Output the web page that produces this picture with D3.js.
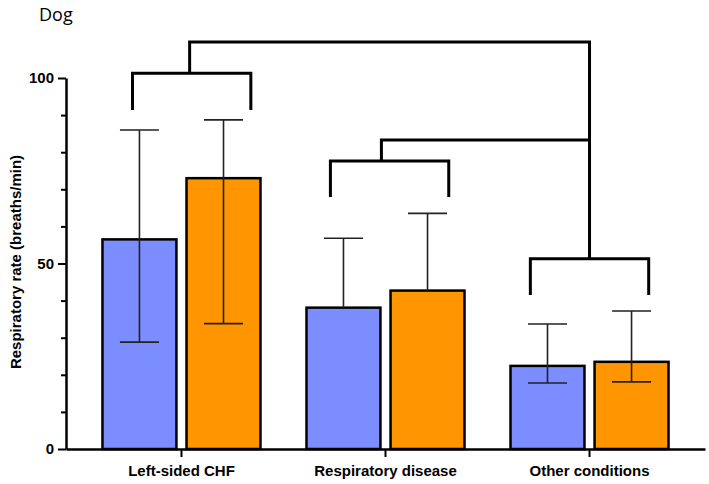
<!DOCTYPE html>
<html>
<head>
<meta charset="utf-8">
<script src="https://cdn.jsdelivr.net/npm/d3@7"></script>
<style>
	body { margin: 0; background: #fff; }
	svg { display: block; }
</style>
</head>
<body>
<div class="dog-chart"></div>
<script>
// categories and the two groups per category
let categories = ['Left-sided CHF', 'Respiratory disease', 'Other conditions'];
let groups = ['blue', 'orange'];

// bar heights (breaths/min)
let blueValues = [56.5, 38.1, 22.4];
let orangeValues = [73.0, 42.7, 23.5];
// error bar ends (null = not drawn)
let blueUpper = [86.0, 56.8, 33.7];
let blueLower = [28.8, null, 17.8];
let orangeUpper = [88.7, 63.5, 37.2];
let orangeLower = [33.8, null, 18.1];

let yMajorTicks = [0, 50, 100];
let yMinorTicks = [10, 20, 30, 40, 60, 70, 80, 90];

// comparison brackets: x in category units (0 = first category), y in data units
let pairBrackets = [
	{ x0: -0.24, x1: 0.34, y: 101.3, legY: 91.4 },
	{ x0: 0.73, x1: 1.31, y: 77.6, legY: 67.9 },
	{ x0: 1.71, x1: 2.29, y: 51.3, legY: 41.5 }
];
// connectors: [x, y] points in category units / data units
let connectors = [
	[[0.04, 101.3], [0.04, 109.7], [2.0, 109.7], [2.0, 51.3]],
	[[0.98, 77.6], [0.98, 83.3], [2.0, 83.3]]
];

let width = 709, height = 484;
let barColor = { blue: '#7B8DFF', orange: '#FF9500' };

let svg = d3.select('.dog-chart').append('svg')
	.attr('width', width)
	.attr('height', height);

let x = d3.scaleBand().domain(categories).range([66, 705]).paddingInner(0).paddingOuter(0.066);
let xSub = d3.scaleBand().domain(groups).range([23, x.step() - 23]).paddingInner(0.12);
let y = d3.scaleLinear().domain([0, 100]).range([449, 78]);
// category-unit scale for annotations
let xc = d3.scaleLinear().domain([0, 1]).range([x(categories[0]) + x.bandwidth() / 2, x(categories[1]) + x.bandwidth() / 2]);

let dataset = categories.map((c, i) => ({
	key: c,
	bars: [
		{ g: 'blue', value: blueValues[i], hi: blueUpper[i], lo: blueLower[i] },
		{ g: 'orange', value: orangeValues[i], hi: orangeUpper[i], lo: orangeLower[i] }
	]
}));

// title
svg.append('text')
	.attr('x', 39)
	.attr('y', 21)
	.attr('font-family', 'Open Sans, sans-serif')
	.attr('font-size', 18)
	.text('Dog');

// bars
let groupsG = svg.selectAll('.grp')
	.data(dataset)
	.enter().append('g')
	.attr('transform', d => 'translate(' + x(d.key) + ',0)');

groupsG.selectAll('rect')
	.data(d => d.bars)
	.enter().append('rect')
	.attr('x', d => xSub(d.g))
	.attr('width', xSub.bandwidth())
	.attr('y', d => y(d.value))
	.attr('height', d => y(0) - y(d.value))
	.attr('fill', d => barColor[d.g])
	.attr('stroke', '#000')
	.attr('stroke-width', 2.5);

// error bars
let capHalf = 19.5;
let err = groupsG.selectAll('.err')
	.data(d => d.bars)
	.enter().append('g')
	.attr('stroke', '#222')
	.attr('stroke-width', 1.6)
	.attr('fill', 'none');

err.append('path')
	.attr('d', d => {
		let cx = xSub(d.g) + xSub.bandwidth() / 2;
		let p = 'M' + cx + ',' + y(d.value) + 'V' + y(d.hi) +
			'M' + (cx - capHalf) + ',' + y(d.hi) + 'H' + (cx + capHalf);
		if (d.lo != null) {
			p += 'M' + cx + ',' + y(d.value) + 'V' + y(d.lo) +
				'M' + (cx - capHalf) + ',' + y(d.lo) + 'H' + (cx + capHalf);
		}
		return p;
	});

// y axis (major + minor ticks)
svg.append('g')
	.attr('transform', 'translate(66,0)')
	.call(d3.axisLeft(y).tickValues(yMajorTicks).tickSize(8).tickSizeOuter(0).tickPadding(4));
svg.append('g')
	.attr('transform', 'translate(66,0)')
	.call(d3.axisLeft(y).tickValues(yMinorTicks).tickSize(5).tickFormat(''))
	.call(g => g.select('.domain').remove());

// x axis
svg.append('g')
	.attr('transform', 'translate(0,449)')
	.call(d3.axisBottom(x).tickSize(8).tickSizeOuter(0).tickPadding(8));

svg.selectAll('.domain').attr('stroke', '#000').attr('stroke-width', 2.5);
svg.selectAll('.tick line').attr('stroke', '#000').attr('stroke-width', 2);
svg.selectAll('.tick text')
	.attr('font-family', 'Liberation Sans, Arial, sans-serif')
	.attr('font-weight', 'bold')
	.attr('font-size', 15)
	.attr('fill', '#000');

// y label
svg.append('text')
	.attr('transform', 'translate(21,262) rotate(-90)')
	.attr('text-anchor', 'middle')
	.attr('font-family', 'Liberation Sans, Arial, sans-serif')
	.attr('font-weight', 'bold')
	.attr('font-size', 15)
	.text('Respiratory rate (breaths/min)');

// brackets
let ann = svg.append('g')
	.attr('stroke', '#000')
	.attr('stroke-width', 3)
	.attr('fill', 'none');

ann.selectAll('.pair')
	.data(pairBrackets)
	.enter().append('path')
	.attr('d', d => 'M' + xc(d.x0) + ',' + y(d.legY) + 'V' + y(d.y) + 'H' + xc(d.x1) + 'V' + y(d.legY));

let line = d3.line().x(d => xc(d[0])).y(d => y(d[1]));
ann.selectAll('.conn')
	.data(connectors)
	.enter().append('path')
	.attr('d', line);
</script>
</body>
</html>
